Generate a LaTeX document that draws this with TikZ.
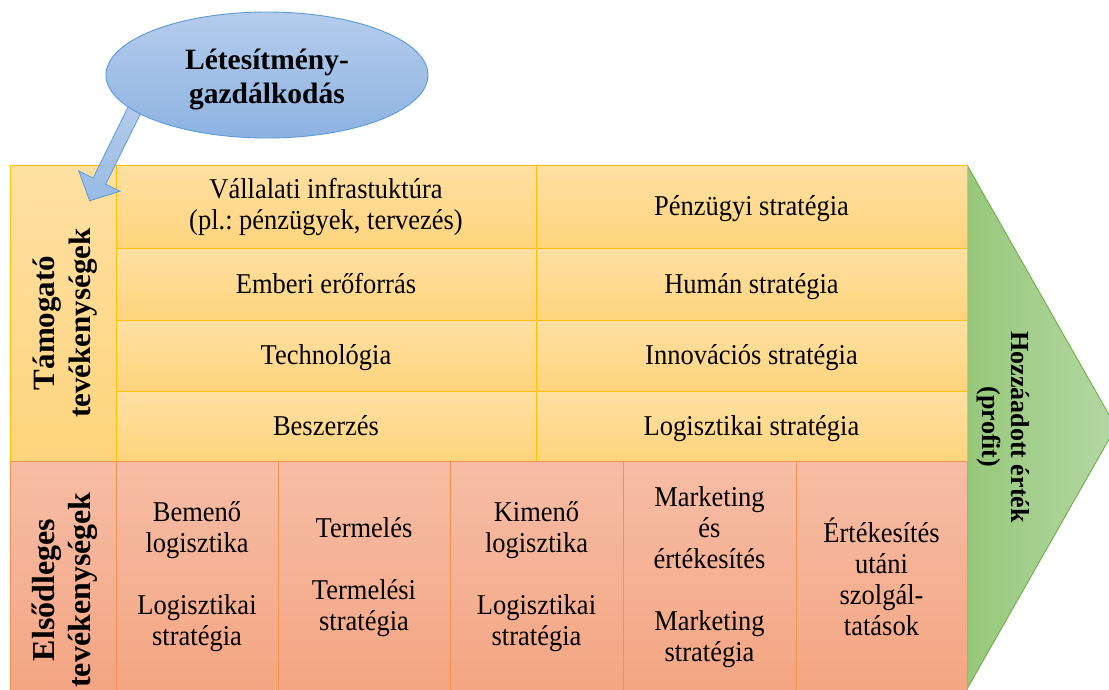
\documentclass[tikz,border=0pt]{standalone}
\usepackage{fontspec}
\setmainfont{Liberation Serif}[FakeStretch=0.923]
\newfontfamily\labelfont{Liberation Serif}
\usetikzlibrary{shapes.geometric}
\frenchspacing

\definecolor{ytop}{HTML}{FFE0A4}
\definecolor{ybot}{HTML}{FFD47C}
\definecolor{yborder}{HTML}{FFC000}
\definecolor{ptop}{HTML}{F6BDA6}
\definecolor{pbot}{HTML}{F4A582}
\definecolor{pborder}{HTML}{F2914A}
\definecolor{gleft}{HTML}{97C87A}
\definecolor{gright}{HTML}{B4D7A4}
\definecolor{gborder}{HTML}{70AD47}
\definecolor{etop}{HTML}{B5CCEC}
\definecolor{ebot}{HTML}{8DB3E2}
\definecolor{eborder}{HTML}{5B9BD5}

\begin{document}
\begin{tikzpicture}[x=1pt,y=-1pt,
  txt/.style={font=\fontsize{28.7}{31}\selectfont, align=center, text=black},
  oneline/.style={text height=24pt, text depth=6pt},
  ycell/.style={draw=yborder, line width=0.9pt, top color=ytop, bottom color=ybot,
                inner sep=0pt, txt},
  pcell/.style={draw=pborder, line width=0.9pt, top color=ptop, bottom color=pbot,
                inner sep=0pt, txt},
  sidelabel/.style={font=\labelfont\bfseries\fontsize{31}{36}\selectfont, align=center,
                rotate=90, inner sep=0pt},
]
\clip (0,0) rectangle (1109,689);

% value-added arrow on the right
\path[draw=gborder, line width=0.9pt, left color=gleft, right color=gright]
  (967,165) -- (1116,427) -- (967,689) -- (967,700) -- cycle;
\node[font=\labelfont\bfseries\fontsize{26}{29}\selectfont, align=center, rotate=-90]
  (profit) at (1003,427) {Hozzáadott érték\\(profit)};

% support activities: side label
\node[ycell, minimum width=106pt, minimum height=296pt] (supp) at (63,313) {};
\node[sidelabel] (supplabel) at (65,323) {Támogató\\tevékenységek};

% support activities: rows
\node[ycell, minimum width=420pt, minimum height=83pt] (r1l) at (326,206.5)
  {Vállalati infrastuktúra\\(pl.: pénzügyek, tervezés)};
\node[ycell, oneline, minimum width=431pt, minimum height=83pt] (r1r) at (751.5,206.5)
  {Pénzügyi stratégia};
\node[ycell, oneline, minimum width=420pt, minimum height=72pt] (r2l) at (326,284)
  {Emberi erőforrás};
\node[ycell, oneline, minimum width=431pt, minimum height=72pt] (r2r) at (751.5,284)
  {Humán stratégia};
\node[ycell, oneline, minimum width=420pt, minimum height=71pt] (r3l) at (326,355.5)
  {Technológia};
\node[ycell, oneline, minimum width=431pt, minimum height=71pt] (r3r) at (751.5,355.5)
  {Innovációs stratégia};
\node[ycell, oneline, minimum width=420pt, minimum height=70pt] (r4l) at (326,426)
  {Beszerzés};
\node[ycell, oneline, minimum width=431pt, minimum height=70pt] (r4r) at (751.5,426)
  {Logisztikai stratégia};

% primary activities: side label
\node[pcell, minimum width=106pt, minimum height=232pt] (prim) at (63,577) {};
\node[sidelabel, font=\labelfont\bfseries\fontsize{32}{36}\selectfont] (primlabel)
  at (65,590) {Elsődleges\\tevékenységek};

% primary activities: columns
\node[pcell, minimum width=162pt, minimum height=232pt] (c1) at (197,577)
  {Bemenő\\logisztika\\[31pt]Logisztikai\\stratégia};
\node[pcell, minimum width=172pt, minimum height=232pt] (c2) at (364,577)
  {Termelés\\[31pt]Termelési\\stratégia};
\node[pcell, minimum width=173pt, minimum height=232pt] (c3) at (536.5,577)
  {Kimenő\\logisztika\\[31pt]Logisztikai\\stratégia};
\node[pcell, minimum width=173pt, minimum height=232pt] (c4) at (709.5,577)
  {Marketing\\és\\értékesítés\\[31pt]Marketing\\stratégia};
\node[pcell, minimum width=171pt, minimum height=232pt] (c5) at (881.5,577)
  {Értékesítés\\utáni\\szolgál-\\tatások};

% block arrow from the facility management bubble
\path[draw=eborder, line width=0.8pt, top color=etop, bottom color=ebot!90!white]
  (144.2,106.1) -- (105.7,184.2) -- (120.0,191.3) -- (89.6,200.8)
  -- (78.8,170.9) -- (93.1,178.0) -- (131.6,99.9) -- cycle;

% facility management bubble
\node[ellipse, draw=eborder, line width=0.9pt, top color=etop, bottom color=ebot,
      minimum width=322pt, minimum height=126pt, inner sep=0pt] (fm) at (267,75) {};
\node[font=\labelfont\bfseries\fontsize{29.5}{34}\selectfont, align=center, inner sep=0pt]
  (fmtext) at (267,80) {Létesítmény-\\gazdálkodás};
\end{tikzpicture}
\end{document}
